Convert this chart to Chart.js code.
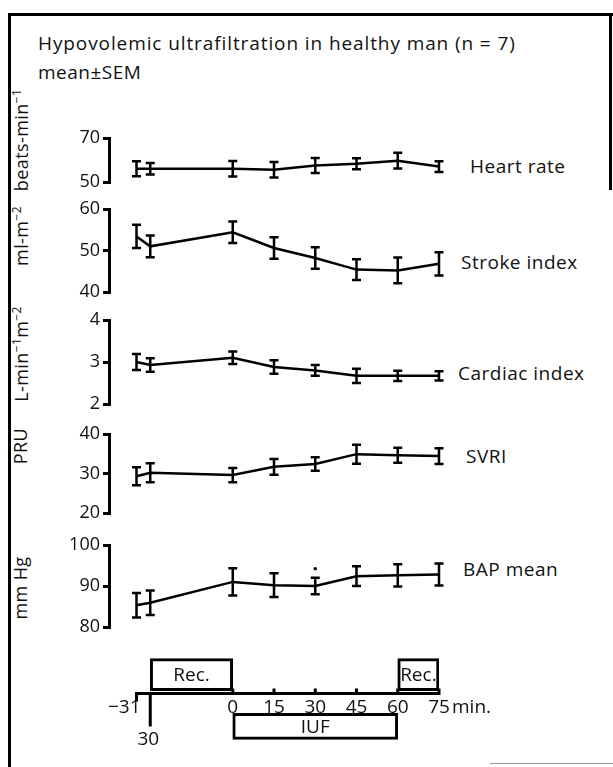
<!DOCTYPE html>
<html>
<head>
<meta charset="utf-8">
<script src="https://cdn.jsdelivr.net/npm/chart.js@4.4.1/dist/chart.umd.min.js"></script>
<style>
  body { margin: 0; background: #fff; }
  #page { position: relative; width: 613px; height: 767px; overflow: hidden; background: #fff;
          font-family: "Open Sans", Lato, sans-serif; color: #111; }
  .txt { position: absolute; white-space: nowrap; font-size: 19px; letter-spacing: 0.5px; line-height: 1;
         transform: translateY(-50%); }
  .ytitle { position: absolute; white-space: nowrap; font-size: 18px; letter-spacing: 0.4px; line-height: 1;
            transform: translate(-50%, -50%) rotate(-90deg); }
  .ytitle sup { font-size: 12px; }
  canvas { position: absolute; left: 0; }
  .rule { position: absolute; background: #000; }
</style>
</head>
<body>
<div id="page">
  <div class="rule" style="left:8px;top:13px;width:605px;height:3px"></div>
  <div class="rule" style="left:8px;top:13px;width:3px;height:754px"></div>
  <div class="rule" style="left:609px;top:13px;width:3px;height:177px"></div>
  <div class="rule" style="left:490px;top:763px;width:123px;height:1px;background:#999"></div>

  <div class="txt" style="left:38px;top:43px;letter-spacing:0.9px">Hypovolemic ultrafiltration in healthy man (n = 7)</div>
  <div class="txt" style="left:38px;top:72px">mean±SEM</div>

  <div class="ytitle" style="left:20px;top:140px">beats-min<sup>−1</sup></div>
  <div class="ytitle" style="left:20px;top:236px">ml-m<sup>−2</sup></div>
  <div class="ytitle" style="left:20px;top:354px">L-min<sup>−1</sup>m<sup>−2</sup></div>
  <div class="ytitle" style="left:20px;top:446px">PRU</div>
  <div class="ytitle" style="left:20px;top:588px">mm Hg</div>

  <div class="txt" style="left:470px;top:166px">Heart rate</div>
  <div class="txt" style="left:461px;top:262px">Stroke index</div>
  <div class="txt" style="left:458px;top:373px">Cardiac index</div>
  <div class="txt" style="left:466px;top:456px">SVRI</div>
  <div class="txt" style="left:463px;top:569px">BAP mean</div>

  <canvas id="cHR" width="613" height="72" style="top:124px"></canvas>
  <canvas id="cSI" width="613" height="111" style="top:195px"></canvas>
  <canvas id="cCI" width="613" height="112" style="top:306px"></canvas>
  <canvas id="cSVRI" width="613" height="107" style="top:420px"></canvas>
  <canvas id="cBAP" width="613" height="110" style="top:531px"></canvas>
  <canvas id="cTime" width="613" height="121" style="top:640px"></canvas>
</div>
<script>
// time points (min); the axis is broken between -31 and -30
const timeLabels = ['−31', '30', '0', '15', '30', '45', '60', '75'];
const timePos = [-35, -30, 0, 15, 30, 45, 60, 75];

const heartRate = [56, 56, 56, 55.6, 57.5, 58.3, 59.7, 57];
const heartRateSem = [3.4, 2.6, 3.5, 3.5, 3.4, 2.5, 3.6, 2.4];

const strokeIndex = [53.4, 51, 54.4, 50.6, 48.2, 45.4, 45.2, 46.8];
const strokeIndexSem = [2.8, 2.6, 2.6, 2.6, 2.6, 2.5, 3.1, 2.8];

const cardiacIndex = [3.0, 2.93, 3.1, 2.88, 2.8, 2.67, 2.67, 2.67];
const cardiacIndexSem = [0.19, 0.16, 0.15, 0.16, 0.13, 0.17, 0.12, 0.11];

const svri = [29.3, 30.2, 29.6, 31.7, 32.4, 34.9, 34.6, 34.4];
const svriSem = [2.3, 2.4, 1.8, 2.0, 1.7, 2.4, 1.9, 2.0];

const bapMean = [85.3, 85.9, 91, 90.2, 90, 92.4, 92.6, 92.8];
const bapMeanSem = [3, 3, 3.3, 2.9, 2, 2.4, 2.7, 2.7];
const bapMarks = [null, null, null, null, 94.2, null, null, null];

const recPeriods = [[-30, 0], [60, 75]];
const iufPeriods = [[0, 60]];

const FONT = '"Open Sans"';

const errorBars = {
  id: 'errorBars',
  afterDatasetsDraw(chart) {
    const { ctx, scales: { x, y } } = chart;
    chart.data.datasets.forEach(ds => {
      if (!ds.sem) return;
      ctx.save();
      ctx.strokeStyle = '#000';
      ctx.lineWidth = 2.5;
      ds.data.forEach((pt, i) => {
        const px = x.getPixelForValue(pt.x);
        const hi = y.getPixelForValue(pt.y + ds.sem[i]);
        const lo = y.getPixelForValue(pt.y - ds.sem[i]);
        ctx.beginPath();
        ctx.moveTo(px, hi); ctx.lineTo(px, lo);
        ctx.moveTo(px - 4.5, hi); ctx.lineTo(px + 4.5, hi);
        ctx.moveTo(px - 4.5, lo); ctx.lineTo(px + 4.5, lo);
        ctx.stroke();
      });
      ctx.restore();
    });
  }
};

function points(values) {
  return values.map((v, i) => ({ x: timePos[i], y: v }));
}

function panel(id, values, sem, min, max, step, extra) {
  const datasets = [{
    data: points(values), sem: sem,
    borderColor: '#000', borderWidth: 2.5, pointRadius: 0, tension: 0, clip: false
  }];
  if (extra) {
    datasets.push({
      data: points(extra), showLine: false, pointRadius: 1.8,
      pointBackgroundColor: '#000', pointBorderWidth: 0, clip: false
    });
  }
  new Chart(document.getElementById(id), {
    type: 'line',
    data: { datasets: datasets },
    options: {
      responsive: false, animation: false, devicePixelRatio: 1,
      layout: { padding: { left: 0, right: 174, top: 14, bottom: 14 } },
      plugins: { legend: { display: false }, tooltip: { enabled: false } },
      scales: {
        x: { type: 'linear', min: -45, max: 75, display: false },
        y: {
          type: 'linear', min: min, max: max,
          afterFit: s => { s.width = 109; },
          ticks: { stepSize: step, color: '#111', padding: 3, font: { family: 'Open Sans', size: 18 } },
          grid: { drawOnChartArea: false, drawTicks: true, tickLength: 6, lineWidth: 3, color: '#000' },
          border: { display: true, width: 3, color: '#000' }
        }
      }
    },
    plugins: [errorBars]
  });
}

panel('cHR', heartRate, heartRateSem, 50, 70, 20);
panel('cSI', strokeIndex, strokeIndexSem, 40, 60, 10);
panel('cCI', cardiacIndex, cardiacIndexSem, 2, 4, 1);
panel('cSVRI', svri, svriSem, 20, 40, 10);
panel('cBAP', bapMean, bapMeanSem, 80, 100, 10, bapMarks);

const periodLabels = {
  id: 'periodLabels',
  afterDatasetsDraw(chart) {
    const ctx = chart.ctx;
    ctx.save();
    ctx.fillStyle = '#111';
    ctx.font = '19px ' + FONT;
    ctx.textAlign = 'center';
    ctx.textBaseline = 'middle';
    chart.data.datasets.forEach((ds, di) => {
      chart.getDatasetMeta(di).data.forEach(el => {
        const p = el.getProps(['x', 'y', 'base']);
        ctx.fillText(ds.label, (p.x + p.base) / 2, p.y + 1);
      });
    });
    ctx.restore();
  }
};

const timeAxis = {
  id: 'timeAxis',
  afterDatasetsDraw(chart, args, opts) {
    const { ctx, scales: { x, y } } = chart;
    const ay = y.getPixelForValue(opts.level);
    const px = timePos.map(t => x.getPixelForValue(t));
    ctx.save();
    ctx.strokeStyle = '#000';
    ctx.lineWidth = 3;
    ctx.beginPath();
    ctx.moveTo(px[0] - 1.5, ay); ctx.lineTo(px[px.length - 1] + 1.5, ay);
    px.forEach((p, i) => {
      if (i === 0) { ctx.moveTo(p, ay); ctx.lineTo(p, ay + 8); }
      else if (i === 1) { ctx.moveTo(p, ay); ctx.lineTo(p, ay + 33); }
      else { ctx.moveTo(p, ay); ctx.lineTo(p, ay - 5); }
    });
    ctx.stroke();
    ctx.fillStyle = '#111';
    ctx.font = '19px ' + FONT;
    ctx.textBaseline = 'middle';
    px.forEach((p, i) => {
      if (i === 0) { ctx.textAlign = 'right'; ctx.fillText(timeLabels[i], p + 4, ay + 14); }
      else if (i === 1) { ctx.textAlign = 'center'; ctx.fillText(timeLabels[i], p - 2, ay + 46); }
      else { ctx.textAlign = 'center'; ctx.fillText(timeLabels[i], p, ay + 14); }
    });
    ctx.textAlign = 'left';
    ctx.fillText('min.', px[px.length - 1] + 13, ay + 14);
    ctx.restore();
  }
};

const boxStyle = {
  backgroundColor: '#fff', borderColor: '#000', borderWidth: 3,
  borderSkipped: false, grouped: false
};

new Chart(document.getElementById('cTime'), {
  type: 'bar',
  data: {
    datasets: [
      Object.assign({ label: 'Rec.', data: recPeriods.map(p => ({ x: p, y: 2 })), barThickness: 32 }, boxStyle),
      Object.assign({ label: 'IUF', data: iufPeriods.map(p => ({ x: p, y: 0 })), barThickness: 26 }, boxStyle)
    ]
  },
  options: {
    indexAxis: 'y',
    responsive: false, animation: false, devicePixelRatio: 1,
    layout: { padding: { left: 109, right: 174, top: 0, bottom: 0 } },
    plugins: { legend: { display: false }, tooltip: { enabled: false }, timeAxis: { level: 1.27 } },
    scales: {
      x: { type: 'linear', min: -45, max: 75, display: false },
      y: { type: 'linear', min: -0.75, max: 2.75, display: false }
    }
  },
  plugins: [periodLabels, timeAxis]
});
</script>
</body>
</html>
